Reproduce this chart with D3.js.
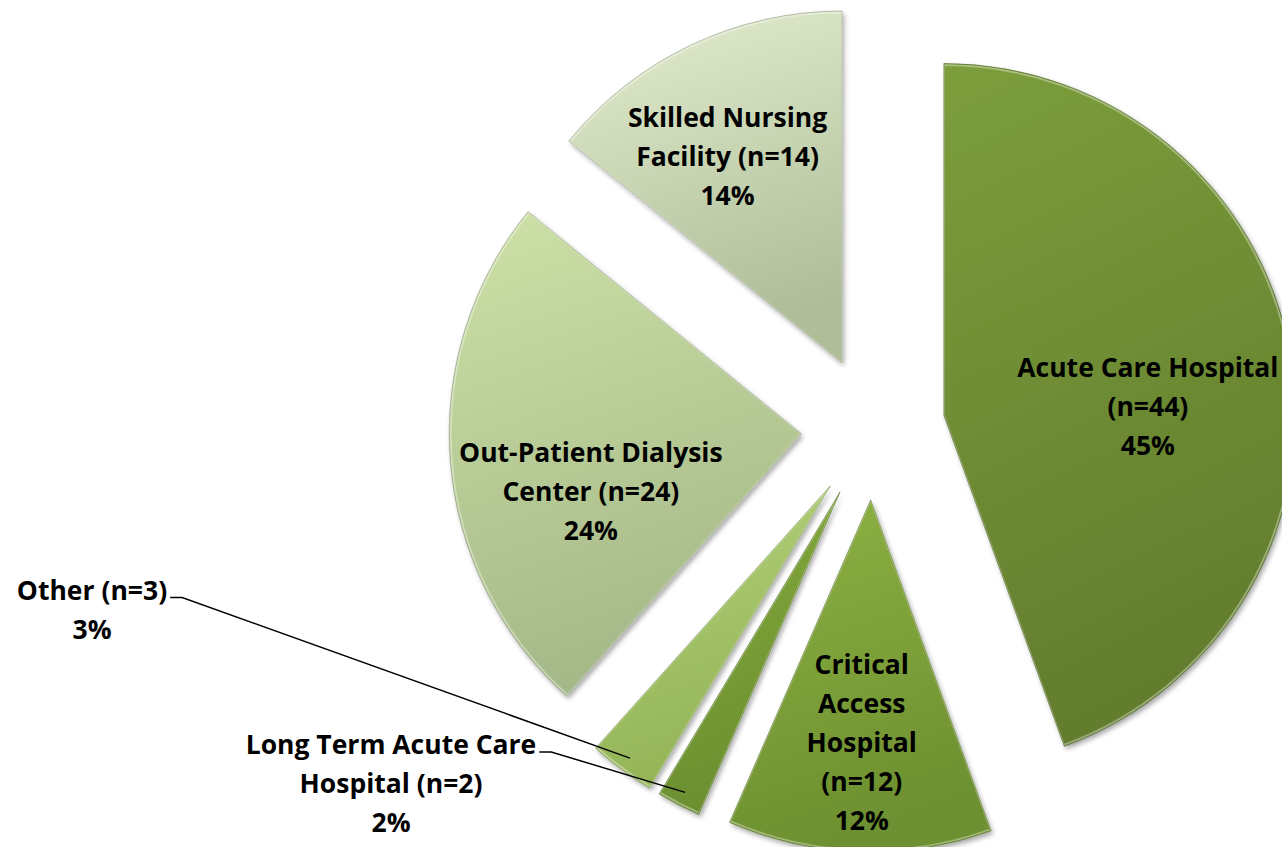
<!DOCTYPE html>
<html>
<head>
<meta charset="utf-8">
<script src="https://cdn.jsdelivr.net/npm/d3@7"></script>
<style>
  body { margin: 0; background: #fff; }
  svg { display: block; }
</style>
</head>
<body>
<svg id="chart" width="1282" height="847"></svg>
<script>
// data
const categories = ['Acute Care Hospital', 'Critical Access Hospital', 'Long Term Acute Care Hospital', 'Other', 'Out-Patient Dialysis Center', 'Skilled Nursing Facility'];
const counts = [44, 12, 2, 3, 24, 14];
const percents = ['45%', '12%', '2%', '3%', '24%', '14%'];
const labelLines = [
  ['Acute Care Hospital', '(n=44)'],
  ['Critical', 'Access', 'Hospital', '(n=12)'],
  ['Long Term Acute Care', 'Hospital (n=2)'],
  ['Other (n=3)'],
  ['Out-Patient Dialysis', 'Center (n=24)'],
  ['Skilled Nursing', 'Facility (n=14)'],
];

// colours, top -> bottom of each slice
const colorTop = ['#7c9e3b', '#8eb244', '#86ab3e', '#b3d17c', '#cde1a7', '#e3eecf'];
const colorBottom = ['#627d2e', '#6d9030', '#6b8f2f', '#93b456', '#a5b888', '#afbd98'];

// layout
const W = 1282, H = 847;
const cx = 873, cy = 428;
const R = 352;
const explode = 72;
const lineH = 39;
// inside labels: angle offset from slice middle (deg), radius fraction
const insideLabel = {
  0: [7.6, 0.58],
  1: [0.3, 0.69],
  4: [-10.9, 0.62],
  5: [-3.6, 0.67],
};
// outside labels (text block centre) with leader lines
const outsideLabel = {
  2: [391, 784],
  3: [92, 610],
};

const svg = d3.select('#chart');
const defs = svg.append('defs');

const shadow = defs.append('filter').attr('id', 'shadow')
  .attr('x', '-20%').attr('y', '-20%').attr('width', '140%').attr('height', '140%');
shadow.append('feDropShadow')
  .attr('dx', 2).attr('dy', 3).attr('stdDeviation', 2.5)
  .attr('flood-color', '#000').attr('flood-opacity', 0.35);

categories.forEach((c, i) => {
  const g = defs.append('linearGradient').attr('id', 'grad' + i)
    .attr('x1', 0).attr('y1', 0).attr('x2', 0.25).attr('y2', 1);
  g.append('stop').attr('offset', '0%').attr('stop-color', colorTop[i]);
  g.append('stop').attr('offset', '100%').attr('stop-color', colorBottom[i]);
});

const pie = d3.pie().sort(null).value(d => d);
const arcs = pie(counts);
const arc = d3.arc().innerRadius(0).outerRadius(R);

const mid = d => (d.startAngle + d.endAngle) / 2;
const polar = (a, r) => [r * Math.sin(a), -r * Math.cos(a)];
const apex = d => {
  const o = polar(mid(d), explode);
  return [cx + o[0], cy + o[1]];
};

const slices = svg.append('g').selectAll('g').data(arcs).join('g')
  .attr('transform', d => `translate(${apex(d)})`);

slices.append('path')
  .attr('d', arc)
  .attr('fill', (d, i) => `url(#grad${i})`)
  .attr('filter', 'url(#shadow)');

slices.append('path')
  .attr('d', d3.arc().innerRadius(0).outerRadius(R - 1.5))
  .attr('fill', 'none')
  .attr('stroke', 'rgba(255,255,255,0.35)')
  .attr('stroke-width', 2);

slices.append('path')
  .attr('d', arc)
  .attr('fill', 'none')
  .attr('stroke', (d, i) => d3.color(colorBottom[i]).darker(0.6))
  .attr('stroke-opacity', 0.6)
  .attr('stroke-width', 1);

// labels
const font = '"Open Sans", "Noto Sans", sans-serif';
const labels = svg.append('g')
  .attr('font-family', font)
  .attr('font-weight', 'bold')
  .attr('font-size', '26.5px')
  .attr('fill', '#000')
  .attr('text-anchor', 'middle');

arcs.forEach((d, i) => {
  const lines = labelLines[i].concat([percents[i]]);
  let x, y;
  if (insideLabel[i]) {
    const [da, rf] = insideLabel[i];
    const p = polar(mid(d) + da * Math.PI / 180, R * rf);
    const a = apex(d);
    x = a[0] + p[0];
    y = a[1] + p[1];
  } else {
    [x, y] = outsideLabel[i];
  }
  const top = y - (lines.length - 1) * lineH / 2;
  const t = labels.append('text');
  lines.forEach((ln, k) => {
    t.append('tspan').attr('x', x).attr('y', top + k * lineH).attr('dy', '0.35em').text(ln);
  });

  if (outsideLabel[i]) {
    const first = t.select('tspan').node();
    const wFirst = first.getComputedTextLength();
    const x0 = x + wFirst / 2 + 3;
    const y0 = top + 7;
    const a = apex(d);
    const p = polar(mid(d), R * 0.96);
    const pts = [[x0, y0], [x0 + 12, y0], [a[0] + p[0], a[1] + p[1]]];
    svg.append('path')
      .attr('d', d3.line()(pts))
      .attr('fill', 'none')
      .attr('stroke', '#000')
      .attr('stroke-width', 1.5);
  }
});
</script>
</body>
</html>
